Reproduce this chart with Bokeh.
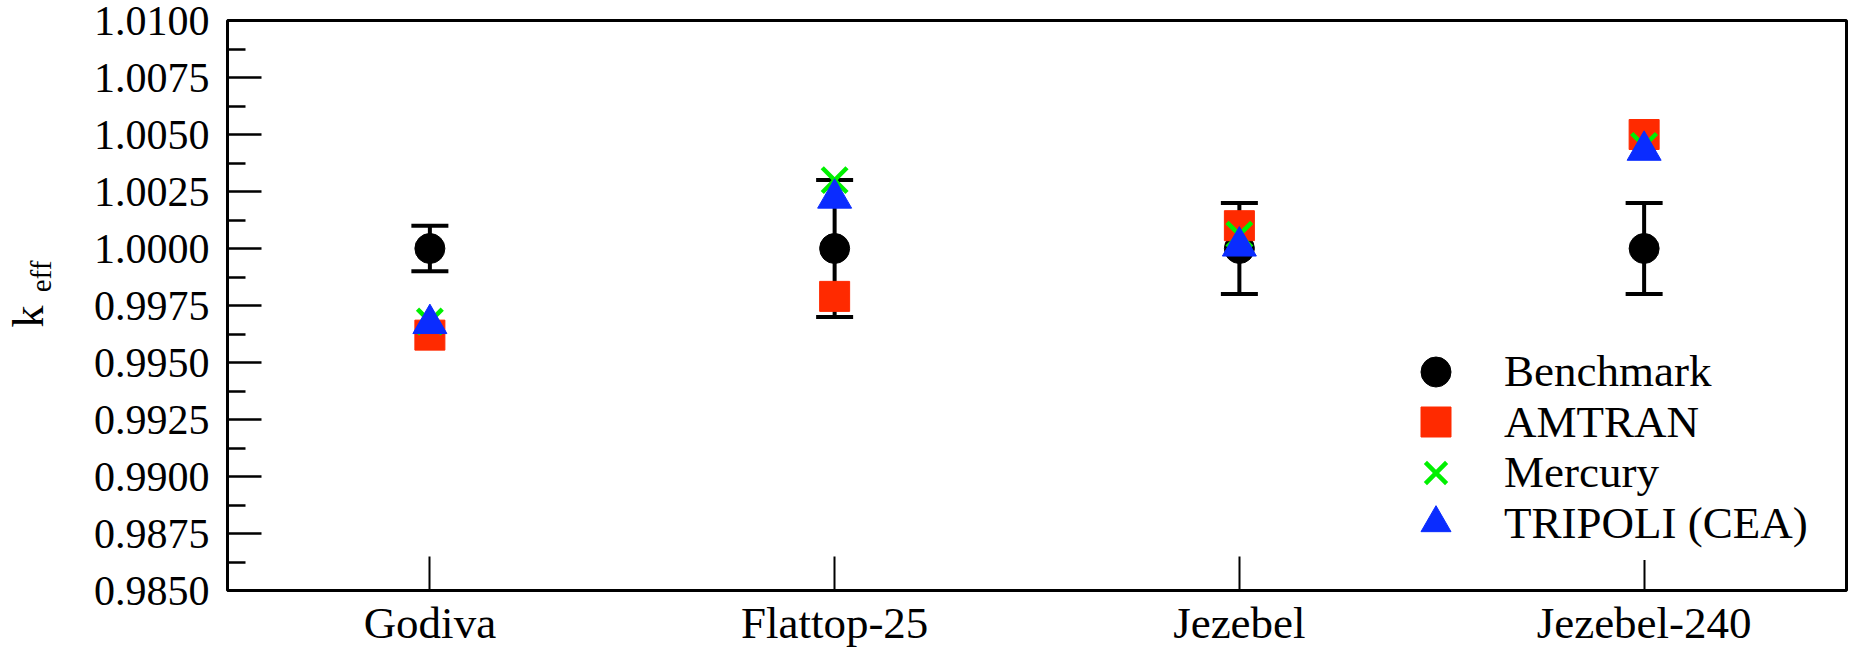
from bokeh.plotting import figure
from bokeh.models import (ColumnDataSource, Whisker, TeeHead, FactorRange, Range1d,
                          FixedTicker, PrintfTickFormatter, Legend, LegendItem, LinearAxis)
from bokeh.embed import file_html
from bokeh.resources import INLINE

# ---- data ----
categories = ["Godiva", "Flattop-25", "Jezebel", "Jezebel-240"]
benchmark = [1.0000, 1.0000, 1.0000, 1.0000]
benchmark_err = [0.0010, 0.0030, 0.0020, 0.0020]
amtran = [0.9962, 0.9979, 1.0010, 1.0050]
mercury = [0.9968, 1.0030, 1.0006, 1.0045]
tripoli = [0.9967, 1.0022, 1.0001, 1.0043]
y_ticks = [0.9850, 0.9875, 0.9900, 0.9925, 0.9950, 0.9975, 1.0000,
           1.0025, 1.0050, 1.0075, 1.0100]
series_names = ["Benchmark", "AMTRAN", "Mercury", "TRIPOLI (CEA)"]

RED = "#ff2a00"
GREEN = "#00f000"
BLUE = "#0a2cff"
FONT = "Liberation Serif"

src = ColumnDataSource(dict(
    cat=categories,
    bench=benchmark,
    upper=[b + e for b, e in zip(benchmark, benchmark_err)],
    lower=[b - e for b, e in zip(benchmark, benchmark_err)],
    amtran=amtran,
    mercury=mercury,
    tripoli=tripoli,
))

p = figure(width=1848, height=650,
           x_range=FactorRange(factors=categories, range_padding=0),
           y_range=Range1d(y_ticks[0], y_ticks[-1]),
           output_backend="svg", toolbar_location=None,
           min_border_left=221, min_border_right=2,
           min_border_top=20, min_border_bottom=58)
p.xgrid.visible = False
p.ygrid.visible = False
p.outline_line_color = "black"
p.outline_line_width = 3
p.outline_line_alpha = 1.0
p.background_fill_color = "white"
p.border_fill_color = "white"

# y axis
y_minor = [(a + b) / 2 for a, b in zip(y_ticks[:-1], y_ticks[1:])]
yax = p.yaxis[0]
yax.ticker = FixedTicker(ticks=y_ticks, minor_ticks=y_minor)
yax.formatter = PrintfTickFormatter(format="%.4f")
yax.axis_line_color = None
yax.major_tick_in = 34
yax.major_tick_out = 0
yax.minor_tick_in = 18
yax.minor_tick_out = 0
yax.major_tick_line_width = 2.5
yax.minor_tick_line_width = 2.5
yax.major_tick_line_color = "black"
yax.minor_tick_line_color = "black"
yax.major_label_text_font = FONT
yax.major_label_text_font_style = "normal"
yax.major_label_text_font_size = "42px"
yax.major_label_text_color = "black"
yax.major_label_standoff = 18
# subscript part of the y label (closest to the axis)
yax.axis_label = "\u2003\u2003eff"
yax.axis_label_text_font = FONT
yax.axis_label_text_font_size = "29px"
yax.axis_label_text_font_style = "normal"
yax.axis_label_text_color = "black"
yax.axis_label_standoff = 34

# main letter of the y label, on an outer axis without ticks
kax = LinearAxis(axis_label="k\u2002", ticker=FixedTicker(ticks=[]),
                 axis_line_color=None, major_tick_in=0, major_tick_out=0,
                 minor_tick_in=0, minor_tick_out=0,
                 major_label_text_font_size="0px",
                 axis_label_text_font=FONT, axis_label_text_font_size="44px",
                 axis_label_text_font_style="normal", axis_label_text_color="black",
                 axis_label_standoff=-31)
p.add_layout(kax, "left")

# x axis
xax = p.xaxis[0]
xax.axis_line_color = None
xax.major_tick_in = 34
xax.major_tick_out = 0
xax.major_tick_line_width = 2
xax.major_tick_line_color = "black"
xax.major_label_text_font = FONT
xax.major_label_text_font_style = "normal"
xax.major_label_text_font_size = "45px"
xax.major_label_text_color = "black"
xax.major_label_standoff = 7

# error bars
whisk = Whisker(source=src, base="cat", upper="upper", lower="lower",
                dimension="height", line_width=4, line_color="black",
                upper_head=TeeHead(size=37, line_width=4, line_color="black"),
                lower_head=TeeHead(size=37, line_width=4, line_color="black"))
p.add_layout(whisk)

r_b = p.scatter("cat", "bench", source=src, marker="circle", size=30,
                fill_color="black", line_color="black")
r_a = p.scatter("cat", "amtran", source=src, marker="square", size=30,
                fill_color=RED, line_color=RED)
r_m = p.scatter("cat", "mercury", source=src, marker="x", size=35,
                line_color=GREEN, line_width=4.5)
r_t = p.scatter("cat", "tripoli", source=src, marker="triangle", size=34,
                fill_color=BLUE, line_color=BLUE)

# one legend box per entry, so that 30px markers fit on ~50px rows
renderers = [r_b, r_a, r_m, r_t]
row_step = 50.5
first_row = 219  # distance of first row centre from the frame bottom (px)
for i in reversed(range(len(series_names))):
    centre = first_row - i * row_step
    lg = Legend(items=[LegendItem(label=series_names[i], renderers=[renderers[i]])],
                location=(1171, centre - 37.5), glyph_width=75, glyph_height=75,
                label_height=75, spacing=0, padding=0, margin=0, label_standoff=31,
                label_text_font=FONT, label_text_font_size="45px",
                label_text_color="black", border_line_color=None,
                background_fill_color="white",
                background_fill_alpha=1.0 if i == len(series_names) - 1 else 0.0)
    p.add_layout(lg)

open("out.html", "w").write(file_html(p, INLINE))
